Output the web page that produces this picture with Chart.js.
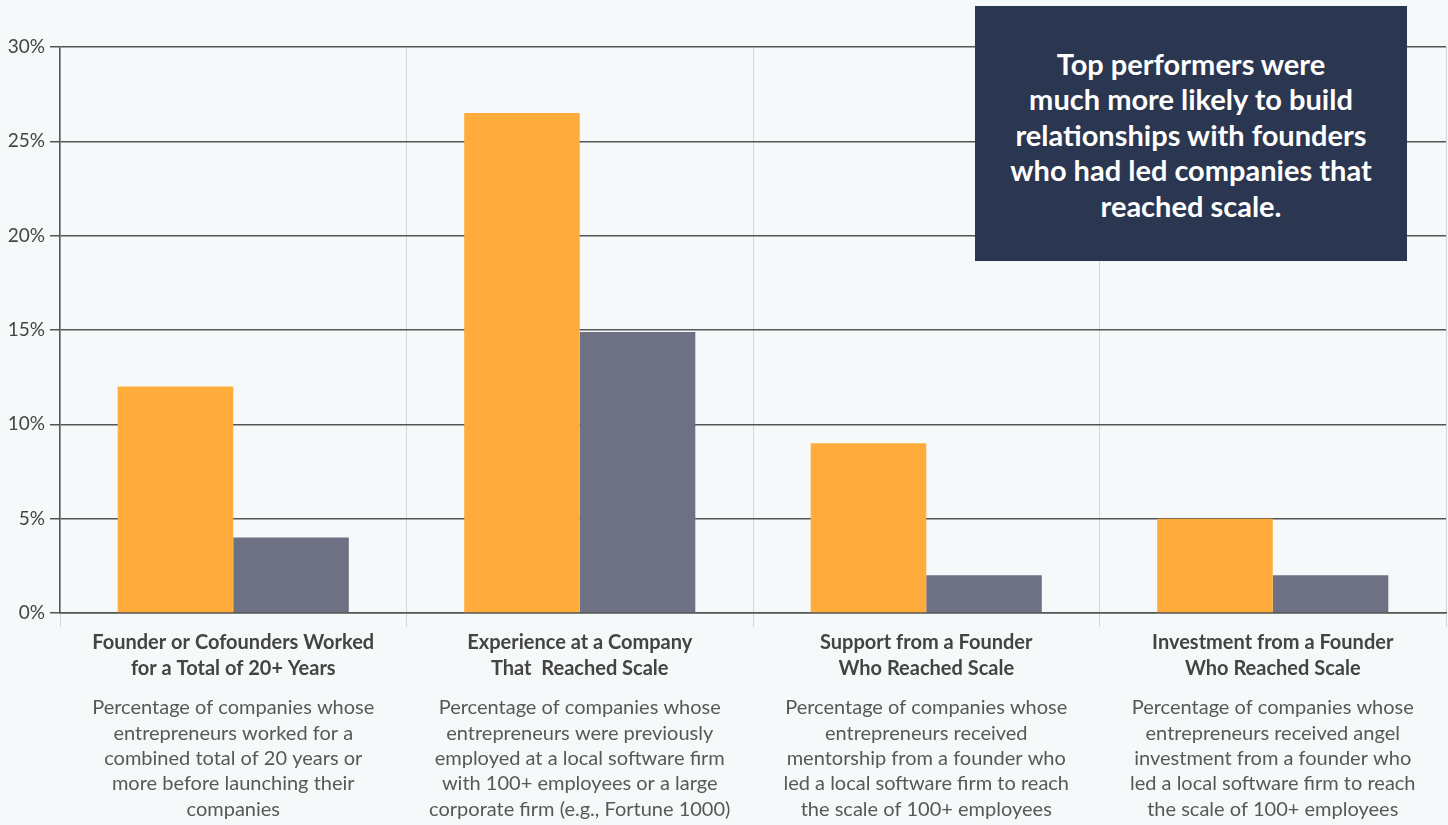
<!DOCTYPE html>
<html lang="en">
<head>
    <meta charset="UTF-8">
    <title>Founder Relationships - Top Performers vs Others</title>
    <script src="https://cdn.jsdelivr.net/npm/chart.js"></script>
    <style>
        body {
            margin: 0;
            background: #f5f9fa;
            font-family: Lato, sans-serif;
        }
        #chart-container {
            position: relative;
            width: 1448px;
            height: 825px;
        }
        #callout {
            position: absolute;
            left: 975px;
            top: 6px;
            width: 432px;
            height: 255px;
            background: #2b3650;
            color: #fff;
            font: bold 29px Lato, sans-serif;
            line-height: 35.5px;
            text-align: center;
            display: flex;
            align-items: center;
            justify-content: center;
            padding-top: 2px;
            box-sizing: border-box;
            z-index: 2;
        }
    </style>
</head>
<body>
    <div id="chart-container">
        <canvas id="founders-chart"></canvas>
        <div id="callout">Top performers were<br>much more likely to build<br>relationships with founders<br>who had led companies that<br>reached scale.</div>
    </div>

    <script>
        const categories = ['Founder or Cofounders Worked', 'Experience at a Company', 'Support from a Founder', 'Investment from a Founder'];
        const categoryTitles = [
            ['Founder or Cofounders Worked', 'for a Total of 20+ Years'],
            ['Experience at a Company', 'That  Reached Scale'],
            ['Support from a Founder', 'Who Reached Scale'],
            ['Investment from a Founder', 'Who Reached Scale']
        ];
        const categoryNotes = [
            ['Percentage of companies whose', 'entrepreneurs worked for a', 'combined total of 20 years or', 'more before launching their', 'companies'],
            ['Percentage of companies whose', 'entrepreneurs were previously', 'employed at a local software firm', 'with 100+ employees or a large', 'corporate firm (e.g., Fortune 1000)'],
            ['Percentage of companies whose', 'entrepreneurs received', 'mentorship from a founder who', 'led a local software firm to reach', 'the scale of 100+ employees'],
            ['Percentage of companies whose', 'entrepreneurs received angel', 'investment from a founder who', 'led a local software firm to reach', 'the scale of 100+ employees']
        ];
        const topPerformers = [12, 26.5, 9, 5];
        const otherCompanies = [4, 14.9, 2, 2];
        const yTicks = [0, 5, 10, 15, 20, 25, 30];

        // draws the bold title and the description under each category
        const categoryLabels = {
            id: 'categoryLabels',
            afterDraw(chart) {
                const ctx = chart.ctx;
                const x = chart.scales.x;
                const base = chart.chartArea.bottom;
                ctx.save();
                ctx.textAlign = 'center';
                ctx.textBaseline = 'middle';
                categoryTitles.forEach((lines, i) => {
                    const cx = x.getPixelForValue(i);
                    ctx.font = 'bold 20px Lato';
                    ctx.fillStyle = '#444';
                    lines.forEach((t, j) => ctx.fillText(t, cx, base + 30 + j * 26));
                    ctx.font = '20px Lato';
                    ctx.fillStyle = '#585858';
                    categoryNotes[i].forEach((t, j) => ctx.fillText(t, cx, base + 95 + j * 25.3));
                });
                ctx.restore();
            }
        };

        const ctx = document.getElementById('founders-chart').getContext('2d');
        const foundersChart = new Chart(ctx, {
            type: 'bar',
            data: {
                labels: categories,
                datasets: [{
                    label: 'Top performers',
                    data: topPerformers,
                    backgroundColor: '#ffac3d',
                    barPercentage: 1,
                    categoryPercentage: 0.667
                }, {
                    label: 'Other companies',
                    data: otherCompanies,
                    backgroundColor: '#6e7184',
                    barPercentage: 1,
                    categoryPercentage: 0.667
                }]
            },
            options: {
                responsive: true,
                maintainAspectRatio: false,
                animation: false,
                layout: {
                    padding: { top: 47, right: 2, bottom: 198, left: 0 }
                },
                plugins: {
                    legend: { display: false },
                    tooltip: { enabled: false }
                },
                scales: {
                    x: {
                        grid: {
                            color: '#d3d6d8',
                            lineWidth: 1,
                            tickLength: 14
                        },
                        border: { color: '#555', width: 1.5 },
                        ticks: { display: false }
                    },
                    y: {
                        min: 0,
                        max: 30,
                        afterFit: (scale) => { scale.width = 60; },
                        afterBuildTicks: (scale) => {
                            scale.ticks = yTicks.map(v => ({ value: v }));
                        },
                        grid: {
                            color: '#555',
                            lineWidth: 1.5,
                            tickLength: 10
                        },
                        border: { color: '#555', width: 1.5 },
                        ticks: {
                            color: '#444',
                            padding: 5,
                            font: { family: 'Lato', size: 19 },
                            callback: (v) => v + '%'
                        }
                    }
                }
            },
            plugins: [categoryLabels]
        });
    </script>
</body>
</html>
